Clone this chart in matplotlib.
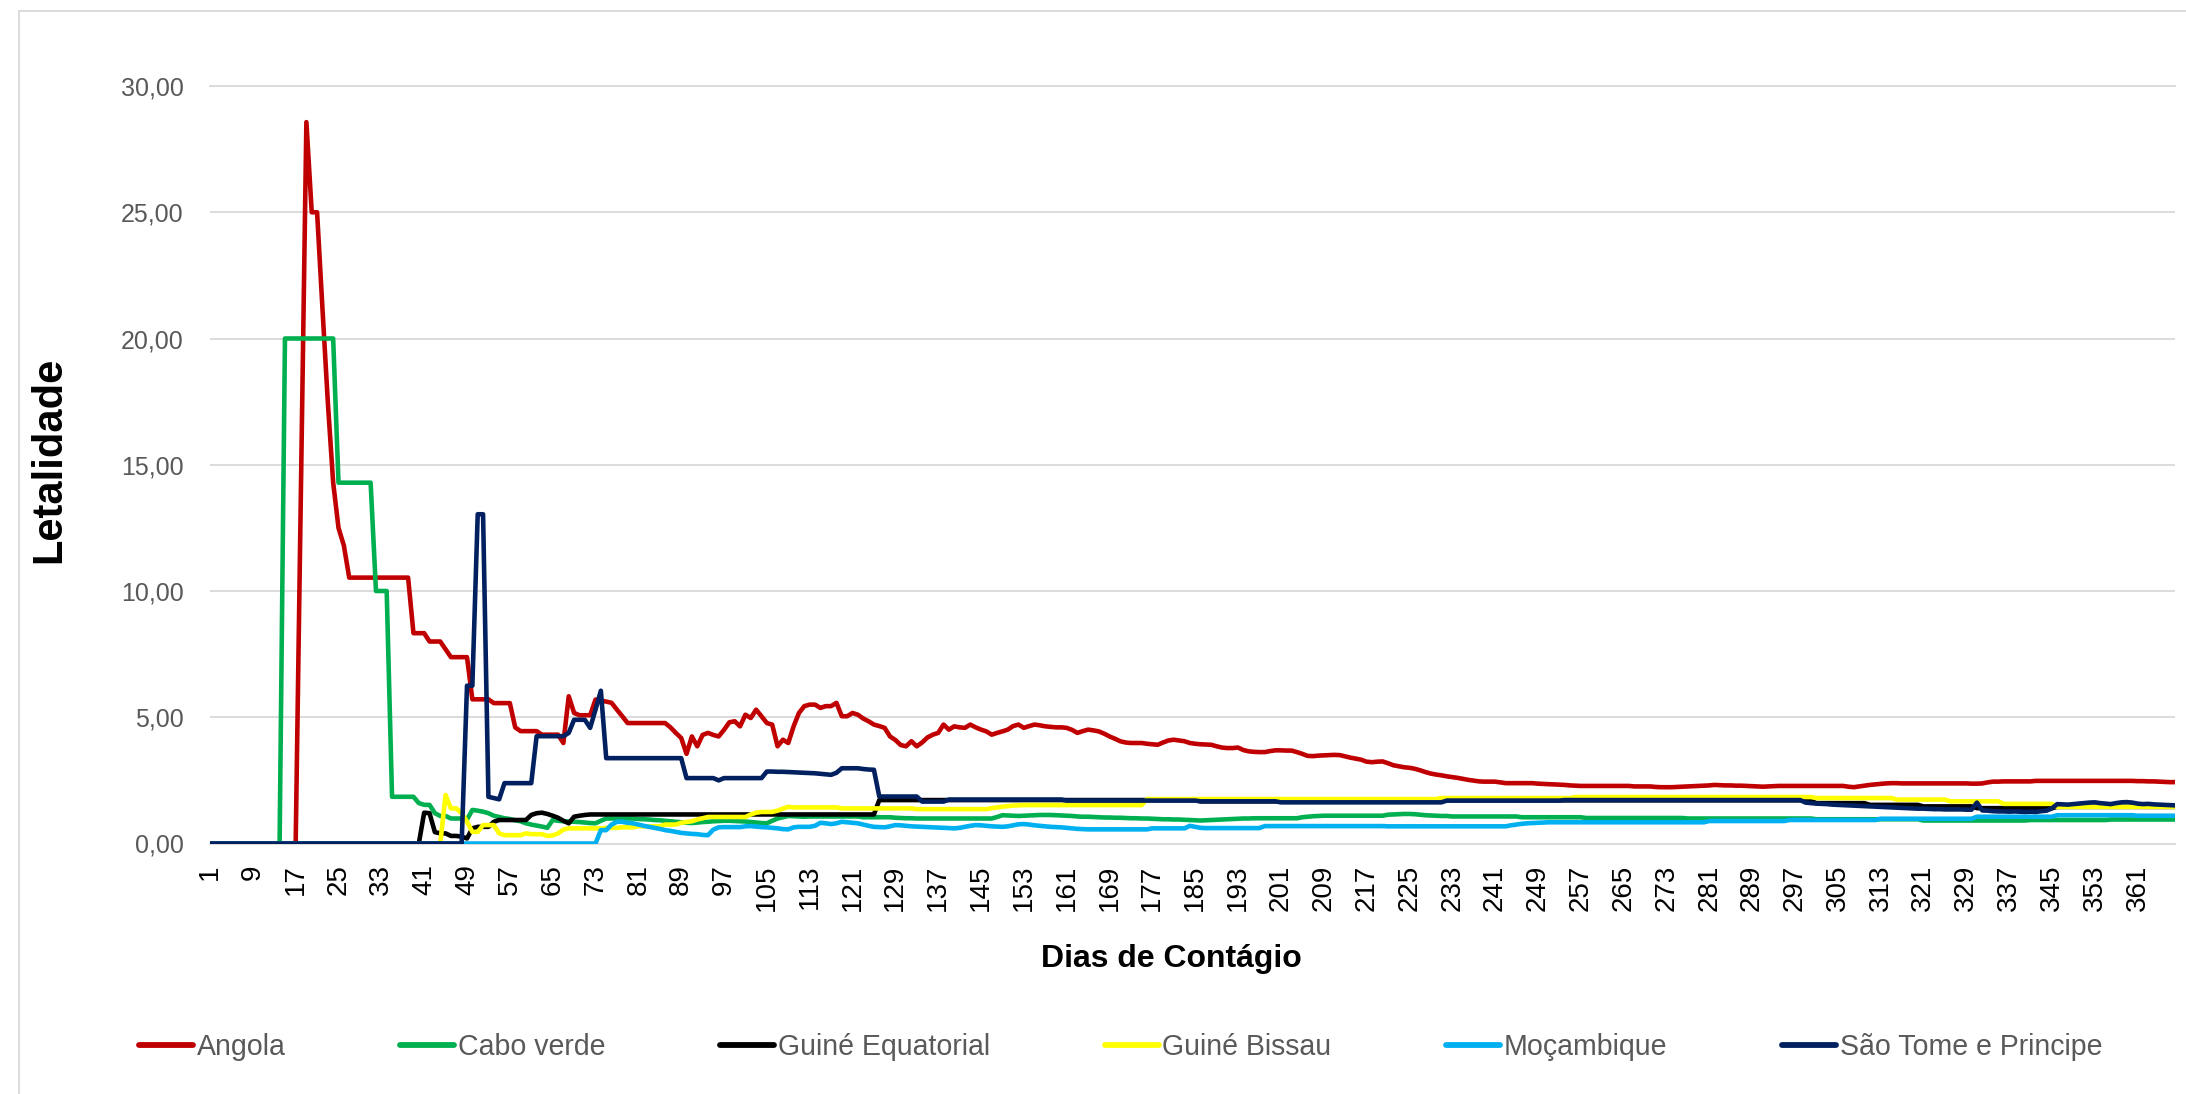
"""Letalidade por dias de contágio - PALOP"""
import numpy as np
import matplotlib
matplotlib.use("Agg")
import matplotlib.pyplot as plt
from matplotlib.lines import Line2D

# ---- data (one value per day, days 1..368) ----
angola = ([0.0] * 17 + [14.29, 28.57, 25.0, 25.0, 21.2, 17.5, 14.3, 12.5, 11.8]
          + [10.53] * 12 + [8.33] * 3 + [8.0] * 3 + [7.69] + [7.38] * 4
          + [5.71] * 4 + [5.56] * 4 + [4.6] + [4.45] * 4 + [4.31] * 4
          + [3.98, 5.83, 5.17, 5.08, 5.08, 5.08]
          + [5.7, 5.66, 5.62, 5.57, 5.3, 5.04]
          + [4.77] * 8
          + [4.6, 4.38, 4.18, 3.55, 4.24, 3.85, 4.3, 4.38, 4.3, 4.24]
          + [4.5, 4.8, 4.84, 4.64, 5.1, 4.97, 5.3, 5.04, 4.77, 4.71]
          + [3.85, 4.11, 3.98, 4.64, 5.17, 5.44, 5.5, 5.5, 5.37, 5.44]
          + [5.44, 5.57, 5.04, 5.04, 5.17, 5.1, 4.95, 4.84, 4.71, 4.65]
          + [4.58, 4.24, 4.1, 3.9, 3.85, 4.05, 3.85, 4.0, 4.2, 4.31]
          + [4.38, 4.71, 4.51, 4.64, 4.6, 4.58, 4.71, 4.6, 4.51, 4.44]
          + [4.31, 4.38, 4.44, 4.51, 4.65, 4.71, 4.58, 4.65, 4.71, 4.68]
          + [4.64, 4.62, 4.6, 4.6, 4.58, 4.5, 4.38, 4.45, 4.51, 4.48]
          + [4.44, 4.35, 4.24, 4.15, 4.05, 4.0, 3.98, 3.98, 3.98, 3.95]
          + [3.93, 3.91, 4.0, 4.08, 4.11, 4.08, 4.05, 3.98, 3.95]
          + [3.93, 3.92, 3.91, 3.85, 3.8, 3.78, 3.78, 3.8, 3.7, 3.65]
          + [3.63, 3.62, 3.62, 3.66, 3.69, 3.69, 3.68, 3.68, 3.62, 3.55]
          + [3.47, 3.46, 3.48, 3.49, 3.5, 3.51, 3.5, 3.45, 3.4, 3.36]
          + [3.32, 3.24, 3.22, 3.24, 3.25, 3.18, 3.1, 3.06, 3.02, 3.0]
          + [2.96, 2.9, 2.83, 2.77, 2.73, 2.7, 2.66, 2.63, 2.6, 2.56]
          + [2.52, 2.49, 2.46, 2.45, 2.45, 2.45, 2.42]
          + [2.39] * 6
          + [2.37, 2.36, 2.35, 2.34, 2.33, 2.32, 2.3, 2.29, 2.28]
          + [2.28] * 9 + [2.26] * 4
          + [2.24, 2.23, 2.23, 2.23, 2.24, 2.25]
          + [2.26, 2.27, 2.28, 2.29, 2.3, 2.32, 2.31, 2.3, 2.3, 2.29, 2.29, 2.28]
          + [2.27, 2.26, 2.25, 2.26, 2.27, 2.28]
          + [2.28] * 12
          + [2.25, 2.23, 2.26, 2.29, 2.32, 2.34, 2.36, 2.38, 2.39, 2.39, 2.38]
          + [2.38] * 11
          + [2.38, 2.37, 2.37, 2.38, 2.42, 2.45, 2.45]
          + [2.46] * 6 + [2.48] * 19
          + [2.47, 2.47, 2.46, 2.46, 2.45, 2.44, 2.43, 2.43])

cabo_verde = ([0.0] * 14 + [20.0] * 10 + [14.29] * 7 + [10.0] * 3 + [1.85] * 5
              + [1.6, 1.53, 1.53, 1.2, 1.09, 1.09, 0.99, 0.99, 0.99, 0.95]
              + [1.33, 1.3, 1.26, 1.2, 1.1, 1.05, 1.0, 0.97, 0.92, 0.88]
              + [0.8, 0.75, 0.71, 0.67, 0.62, 0.93, 0.9, 0.88, 0.87, 0.86]
              + [0.85, 0.83, 0.81, 0.8, 0.9]
              + [0.99] * 6
              + [0.97, 0.96, 0.95, 0.93, 0.92, 0.9]
              + [0.88, 0.86, 0.84, 0.82, 0.81, 0.83, 0.85, 0.86, 0.88, 0.89]
              + [0.9, 0.9, 0.89, 0.88, 0.87, 0.85, 0.83, 0.81, 0.8, 0.9]
              + [0.99, 1.04, 1.09, 1.08, 1.07, 1.06]
              + [1.07] * 10 + [1.04] * 6
              + [1.02, 1.01, 1.0, 1.0, 0.99, 0.99]
              + [0.99] * 13 + [1.05]
              + [1.12, 1.11, 1.1, 1.09, 1.1, 1.11, 1.12, 1.13, 1.13]
              + [1.13, 1.12, 1.11, 1.1, 1.09]
              + [1.07, 1.06, 1.06, 1.05, 1.04, 1.03, 1.03, 1.02]
              + [1.02, 1.01, 1.0, 1.0, 0.99, 0.99, 0.98, 0.97]
              + [0.96, 0.96, 0.95, 0.95, 0.94, 0.93, 0.92, 0.91]
              + [0.92, 0.93, 0.94, 0.95, 0.96, 0.97, 0.98, 0.99, 0.99]
              + [1.0] * 9 + [1.04, 1.06, 1.08, 1.09]
              + [1.1] * 12
              + [1.14, 1.15, 1.16, 1.17, 1.17, 1.16, 1.14, 1.12, 1.11, 1.1, 1.09, 1.09]
              + [1.07] * 13 + [1.04] * 12 + [1.01] * 19 + [0.99] * 24
              + [0.96] * 20 + [0.91] * 20 + [0.93] * 15 + [0.95] * 13)

guine_equatorial = ([0.0] * 40
                    + [1.22, 1.2, 0.45, 0.4, 0.4, 0.3, 0.3, 0.27, 0.2, 0.6]
                    + [0.66, 0.66, 0.66, 0.86] + [0.93] * 6
                    + [1.13, 1.2, 1.22, 1.17, 1.1, 1.02, 0.9, 0.8, 1.06, 1.1]
                    + [1.13] + [1.15] * 54
                    + [1.72] * 60
                    + [1.67] * 45 + [1.71] * 70
                    + [1.6] * 10 + [1.53] * 10 + [1.47] * 10 + [1.4] * 15 + [1.45] * 23)

guine_bissau = ([0.0] * 44
                + [1.92, 1.39, 1.39, 1.2, 0.86, 0.46, 0.46, 0.73, 0.73, 0.73]
                + [0.4, 0.33, 0.33, 0.33, 0.33, 0.4, 0.37, 0.37, 0.37, 0.3]
                + [0.32, 0.4, 0.55] + [0.6] * 7
                + [0.62] * 3 + [0.64] * 3 + [0.68] * 5
                + [0.75] * 3 + [0.82, 0.85, 0.88, 0.95, 1.0]
                + [1.05] * 8 + [1.15, 1.22, 1.25, 1.25, 1.25, 1.3, 1.38, 1.45]
                + [1.43] * 9 + [1.39] * 14 + [1.36] * 14
                + [1.4, 1.43, 1.46, 1.48, 1.5, 1.51, 1.52, 1.52]
                + [1.52] * 21 + [1.76] * 55 + [1.8] * 25 + [1.84] * 45
                + [1.8] * 15 + [1.74] * 10 + [1.67] * 10 + [1.57] * 10 + [1.45] * 23)

mocambique = ([0.0] * 73
              + [0.53, 0.53, 0.75, 0.86, 0.86, 0.82, 0.8]
              + [0.75, 0.7, 0.66, 0.62, 0.58, 0.53, 0.5, 0.46, 0.42, 0.4]
              + [0.38, 0.37, 0.34, 0.33, 0.55, 0.64] + [0.65] * 4
              + [0.68, 0.69, 0.67, 0.65, 0.64, 0.62, 0.6, 0.57, 0.56, 0.64]
              + [0.66, 0.66, 0.66, 0.7, 0.82, 0.8, 0.77, 0.8, 0.86, 0.84]
              + [0.82, 0.8, 0.75, 0.7, 0.66, 0.65, 0.64, 0.68, 0.73, 0.72]
              + [0.7, 0.68, 0.67, 0.66, 0.65, 0.64, 0.63, 0.62, 0.61, 0.6]
              + [0.62, 0.66, 0.7, 0.73, 0.72, 0.7, 0.68, 0.67, 0.66, 0.68]
              + [0.72, 0.76, 0.77, 0.75, 0.72, 0.7, 0.68, 0.66, 0.65, 0.64]
              + [0.62, 0.6, 0.58, 0.57, 0.56, 0.56] + [0.56] * 10
              + [0.6] * 7 + [0.7, 0.66, 0.62]
              + [0.61] * 11 + [0.69] * 23 + [0.68] * 23
              + [0.72, 0.75, 0.78, 0.8, 0.81, 0.82, 0.83]
              + [0.84] * 30 + [0.89] * 15 + [0.93] * 17 + [0.98] * 18
              + [1.06] * 15 + [1.12] * 15 + [1.1] * 8)

sao_tome = ([0.0] * 48
            + [6.25, 6.25, 13.04, 13.04, 1.85, 1.8, 1.75]
            + [2.39] * 6 + [4.25] * 6
            + [4.38, 4.9, 4.9, 4.9, 4.58, 5.3, 6.05]
            + [3.38] * 15 + [2.59] * 6 + [2.5] + [2.59] * 8
            + [2.85, 2.85, 2.84, 2.84, 2.83, 2.82, 2.81, 2.8, 2.79, 2.78, 2.76, 2.74, 2.72]
            + [2.8, 2.98, 2.98, 2.98, 2.98, 2.95, 2.93, 2.92]
            + [1.86] * 8 + [1.66] * 5 + [1.74] * 22 + [1.7] * 25
            + [1.67] * 15 + [1.63] * 31 + [1.7] * 22 + [1.72] * 45
            + [1.62, 1.6, 1.58, 1.57, 1.56, 1.54, 1.53, 1.52, 1.51, 1.5, 1.49]
            + [1.48, 1.47, 1.46, 1.45, 1.44, 1.43, 1.42, 1.41, 1.4, 1.39, 1.38, 1.38]
            + [1.37, 1.36, 1.36, 1.35, 1.35, 1.35, 1.35, 1.34, 1.34]
            + [1.62, 1.31, 1.3]
            + [1.28, 1.27, 1.27, 1.26, 1.27, 1.26, 1.25, 1.26, 1.25, 1.28, 1.3]
            + [1.39, 1.56, 1.55, 1.54, 1.56, 1.58, 1.6, 1.62, 1.63, 1.6]
            + [1.58, 1.56, 1.6, 1.63, 1.64, 1.62]
            + [1.58, 1.56, 1.57, 1.55, 1.54, 1.53, 1.52, 1.51])

names = ["Angola", "Cabo verde", "Guiné Equatorial", "Guiné Bissau",
         "Moçambique", "São Tome e Principe"]
colors = ["#C00000", "#00B050", "#000000", "#FFFF00", "#00B0F0", "#002060"]
all_series = [angola, cabo_verde, guine_equatorial, guine_bissau, mocambique, sao_tome]
n_days = 368
tick_days = list(range(1, 362, 8))
y_ticks = [0, 5, 10, 15, 20, 25, 30]

for name, values in zip(names, all_series):
    assert len(values) == n_days, (name, len(values))

plt.rcParams['font.family'] = ['Liberation Sans', 'DejaVu Sans']

W, H = 2186, 1094
fig = plt.figure(figsize=(W / 100, H / 100), dpi=100)
ax = fig.add_axes([210 / W, 1 - 843.5 / H, (2175 - 210) / W, (843.5 - 86) / H])

for name, values, color in zip(names, all_series, colors):
    days = np.arange(1, len(values) + 1)
    ax.plot(days, values, color=color, lw=3.3, label=name,
            solid_joinstyle="round", solid_capstyle="round", zorder=3)

ax.set_xlim(1, n_days)
ax.set_ylim(0, 30)
ax.set_xticks(tick_days)
ax.set_xticklabels([str(d) for d in tick_days], rotation=90)
ax.set_yticks(y_ticks)
ax.set_yticklabels([("%.2f" % v).replace(".", ",") for v in y_ticks])
ax.tick_params(axis="x", length=0, pad=15, labelsize=20, labelcolor="#000000")
ax.tick_params(axis="y", length=0, pad=19, labelsize=18, labelcolor="#595959")
ax.yaxis.grid(True, color="#D9D9D9", lw=1.3, zorder=0)
ax.set_axisbelow(True)
for side in ["left", "right"]:
    ax.spines[side].set_visible(False)
for side in ["top", "bottom"]:
    ax.spines[side].set_color("#D9D9D9")
    ax.spines[side].set_linewidth(1.3)

fig.text(1171 / W, 1 - 959 / H, "Dias de Contágio", ha="center", va="center",
         fontsize=23, fontweight="bold")
fig.text(49 / W, 1 - 460 / H, "Letalidade", ha="center", va="center",
         rotation=90, fontsize=30, fontweight="bold")

handles = [Line2D([], [], color=c, lw=4.2, solid_capstyle="round") for c in colors]
fig.legend(handles, names, loc="center left", bbox_to_anchor=(139 / W, 1 - 1047 / H),
           ncol=6, frameon=False, fontsize=20.55, handlelength=1.9,
           handletextpad=0.12, columnspacing=4.02, borderaxespad=0, borderpad=0,
           labelcolor="#595959")

# chart area border
fig.add_artist(Line2D([19 / W, 19 / W], [0, 1 - 11 / H], color="#D9D9D9", lw=1.3))
fig.add_artist(Line2D([19 / W, 1], [1 - 11 / H, 1 - 11 / H], color="#D9D9D9", lw=1.3))

fig.savefig("out.png", dpi=100)
plt.close(fig)
